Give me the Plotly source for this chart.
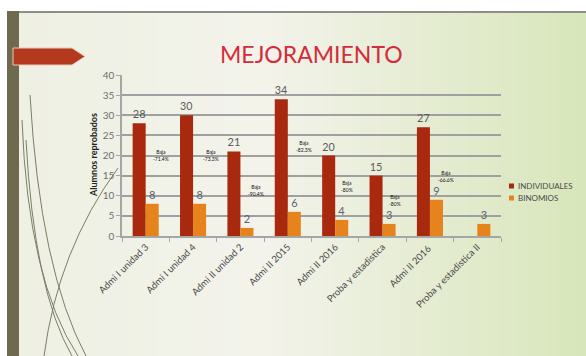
import math
import plotly.graph_objects as go

# ---- data ----
categories = [
    "Admi I unidad 3", "Admi I unidad 4", "Admi II unidad 2", "Admi II 2015",
    "Admi II 2016", "Proba y estadistica", "Admi II 2016 ", "Proba y estadistica II",
]
individuales = [28, 30, 21, 34, 20, 15, 27, None]
binomios = [8, 8, 2, 6, 4, 3, 9, 3]

W, H = 586, 356


def px(x):
    return x / W


def py(y):
    return 1 - y / H


def mix(c1, c2, t):
    a = [int(c1[i:i + 2], 16) for i in (1, 3, 5)]
    b = [int(c2[i:i + 2], 16) for i in (1, 3, 5)]
    return "#" + "".join(f"{round(a[k] + (b[k] - a[k]) * t):02x}" for k in range(3))


RED = "#a9290f"
ORANGE = "#e6831c"

fig = go.Figure()
fig.add_trace(go.Bar(
    x=categories, y=individuales, name="INDIVIDUALES",
    marker=dict(color=RED, line=dict(width=0)),
    text=[("" if v is None else str(v)) for v in individuales],
    textposition="outside", cliponaxis=False,
    textfont=dict(size=11, color="#5b5b5b", family="Lato"),
))
fig.add_trace(go.Bar(
    x=categories, y=binomios, name="BINOMIOS",
    marker=dict(color=ORANGE, line=dict(width=0)),
    text=[str(v) for v in binomios],
    textposition="outside", cliponaxis=False,
    textfont=dict(size=11, color="#5a6274", family="Lato"),
))

shapes = []
# slide background: soft horizontal gradient
stops = [(0.0, "#eef0e2"), (0.45, "#f3f3eb"), (1.0, "#d8e6ba")]
n = 60
for i in range(n):
    t = (i + 0.5) / n
    for (t0, c0), (t1, c1) in zip(stops, stops[1:]):
        if t0 <= t <= t1:
            col = mix(c0, c1, (t - t0) / (t1 - t0))
            break
    shapes.append(dict(type="rect", xref="paper", yref="paper",
                       x0=i / n, x1=(i + 1) / n + 0.002, y0=0, y1=1,
                       fillcolor=col, line=dict(width=0), layer="below"))
# white frame outside the slide and its top border
shapes.append(dict(type="rect", xref="paper", yref="paper", x0=0, x1=1,
                   y0=py(11), y1=1, fillcolor="#ffffff", line=dict(width=0), layer="below"))
shapes.append(dict(type="rect", xref="paper", yref="paper", x0=0, x1=px(7),
                   y0=0, y1=1, fillcolor="#ffffff", line=dict(width=0), layer="below"))
shapes.append(dict(type="line", xref="paper", yref="paper", x0=px(7), x1=1,
                   y0=py(12), y1=py(12), line=dict(color="#8e8e86", width=2), layer="below"))
# olive side strip
shapes.append(dict(type="rect", xref="paper", yref="paper", x0=px(7), x1=px(19),
                   y0=0, y1=py(11), fillcolor="#6f6a4e", line=dict(width=0), layer="below"))
# decorative curves
curves = [
    "M 22,120 Q 28,280 78,356",
    "M 26,140 Q 34,290 72,356",
    "M 30,95 Q 40,270 86,356",
    "M 44,356 Q 58,250 118,168",
]
for c in curves:
    pts = c.replace("M", "").replace("Q", "").split()
    xy = [tuple(map(float, p.split(","))) for p in pts]
    path = "M {},{} Q {},{} {},{}".format(
        px(xy[0][0]), py(xy[0][1]), px(xy[1][0]), py(xy[1][1]), px(xy[2][0]), py(xy[2][1]))
    shapes.append(dict(type="path", xref="paper", yref="paper", path=path,
                       line=dict(color="#7d7c66", width=1), layer="below"))
# red arrow tab
arrow = [(13, 48), (72, 48), (85, 56.5), (72, 65), (13, 65)]
path = "M " + " L ".join(f"{px(a)},{py(b)}" for a, b in arrow) + " Z"
shapes.append(dict(type="path", xref="paper", yref="paper", path=path,
                   fillcolor="#b43a1d", line=dict(color="#e9c9b8", width=1), layer="below"))
# legend swatches
shapes.append(dict(type="rect", xref="paper", yref="paper", x0=px(509), x1=px(514),
                   y0=py(188.5), y1=py(183.5), fillcolor=RED, line=dict(width=0)))
shapes.append(dict(type="rect", xref="paper", yref="paper", x0=px(509), x1=px(514),
                   y0=py(200.5), y1=py(195.5), fillcolor=ORANGE, line=dict(width=0)))

annotations = [
    dict(text="MEJORAMIENTO", xref="paper", yref="paper", x=px(311), y=py(54),
         xanchor="center", yanchor="middle",
         showarrow=False, font=dict(size=23, color="#d42c3c", family="Lato")),
    dict(text="<b>Alumnos reprobados</b>", xref="paper", yref="paper", x=px(93), y=py(155),
         xanchor="center", yanchor="middle",
         textangle=-90, showarrow=False, font=dict(size=9, color="#222222", family="Lato")),
    dict(text="INDIVIDUALES", xref="paper", yref="paper", x=px(516), y=py(186),
         xanchor="left", yanchor="middle",
         showarrow=False, font=dict(size=8, color="#4a4a4a", family="Lato")),
    dict(text="BINOMIOS", xref="paper", yref="paper", x=px(516), y=py(198),
         xanchor="left", yanchor="middle",
         showarrow=False, font=dict(size=8, color="#4a4a4a", family="Lato")),
]

# "Baja" notes: drop from individual to pair results, truncated to one decimal
note_pos = [(0.32, 19.9), (1.38, 20.1), (2.33, 11.4), (3.34, 22.3),
            (4.25, 12.4), (5.26, 8.7), (6.34, 14.9)]
for k, (xv, yv) in enumerate(note_pos):
    ind, bino = individuales[k], binomios[k]
    pct = math.trunc((bino - ind) / ind * 1000) / 10
    s = f"{pct:.1f}".rstrip("0").rstrip(".")
    annotations.append(dict(text=f"Baja<br>{s}%", x=xv, y=yv, xref="x", yref="y",
                            showarrow=False, align="center",
                            font=dict(size=5, color="#111111", family="Lato")))

fig.update_layout(
    width=W, height=H,
    margin=dict(l=0, r=0, t=0, b=0),
    paper_bgcolor="#ffffff", plot_bgcolor="rgba(0,0,0,0)",
    showlegend=False,
    barmode="group", bargap=0.45, bargroupgap=0,
    shapes=shapes, annotations=annotations,
    font=dict(family="Lato"),
    xaxis=dict(domain=[px(122), px(501)], automargin=False,
               showline=True, linecolor="#a6a6a6", linewidth=1.5,
               ticks="outside", tickson="boundaries", ticklen=4, tickcolor="#a6a6a6",
               tickangle=-45, tickfont=dict(size=9.5, color="#4a4a4a", family="Lato"),
               showgrid=False),
    yaxis=dict(domain=[py(236), py(75)], automargin=False, range=[0, 40], dtick=5,
               showline=True, linecolor="#a6a6a6", linewidth=1.5,
               ticks="outside", ticklen=4, tickcolor="#a6a6a6",
               tickfont=dict(size=10, color="#6e6e6e", family="Lato"),
               showgrid=True, gridcolor="#a0a0a0", gridwidth=1.5, zeroline=False),
)

fig.write_html("out.html")
